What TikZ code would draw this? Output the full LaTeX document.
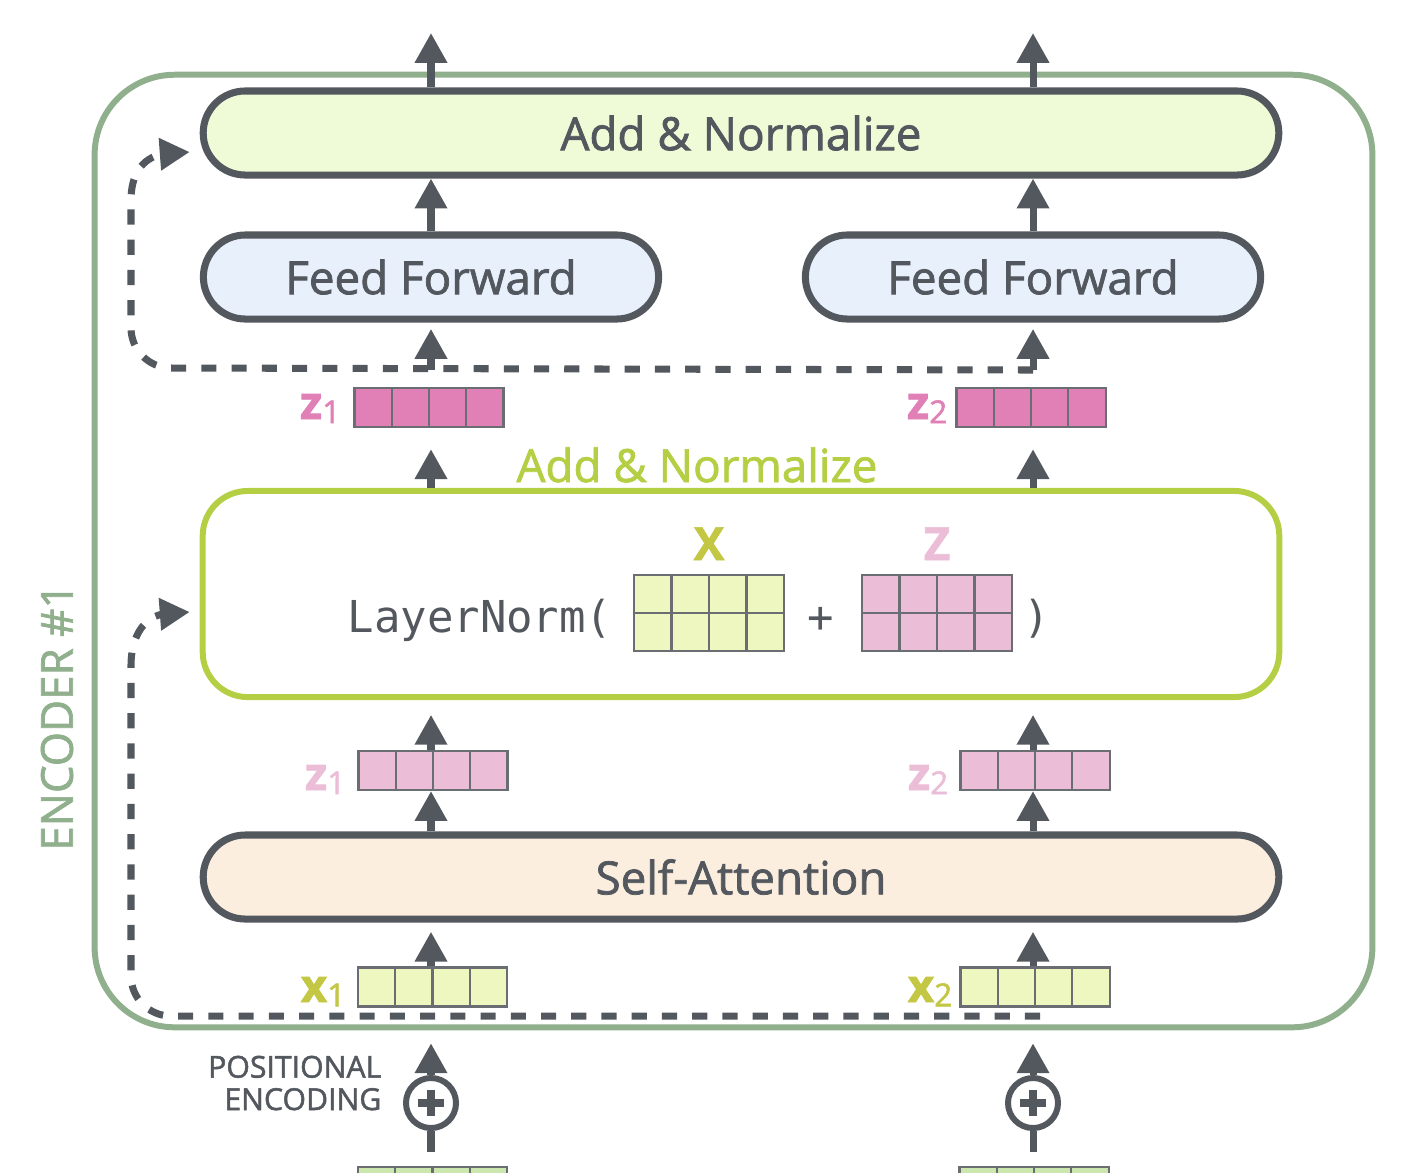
\documentclass[tikz,border=0pt]{standalone}
\usepackage{fontspec}
\setmainfont{Open Sans}[RawFeature={embolden=1.6}]
\newfontfamily\monofont{DejaVu Sans Mono}
\usetikzlibrary{arrows.meta,calc}

\definecolor{ink}{HTML}{53575E}
\definecolor{cellline}{HTML}{6A6D72}
\definecolor{encgreen}{HTML}{90AF8C}
\definecolor{lime}{HTML}{B4CF43}
\definecolor{addfill}{HTML}{EFFAD7}
\definecolor{fffill}{HTML}{E8F0FB}
\definecolor{safill}{HTML}{FBEEDF}
\definecolor{pinkdark}{HTML}{E080B6}
\definecolor{pinklight}{HTML}{EBBDD7}
\definecolor{yellowcell}{HTML}{EEF7BF}
\definecolor{olive}{HTML}{C3C743}
\definecolor{embgreen}{HTML}{CBE7AE}

% vector label: bold letter with a small lowered index
\newcommand{\veclab}[2]{{\bfseries #1}\raisebox{-1.2pt}{\fontsize{9}{9}\selectfont #2}}

\begin{document}
\begin{tikzpicture}[x=0.01cm, y=-0.01cm,
  layerbox/.style={draw=ink, line width=2pt, rounded corners=0.42cm,
    minimum height=0.84cm, inner sep=0pt, text=ink,
    font=\fontsize{13}{15}\selectfont},
  vecfour/.style={draw=cellline, line width=0.6pt, minimum width=1.49cm,
    minimum height=0.39cm, inner sep=0pt,
    path picture={\foreach \k in {1,2,3}{
      \draw[cellline, line width=0.6pt]
        ($(path picture bounding box.south west)!\k/4!(path picture bounding box.south east)$) --
        ($(path picture bounding box.north west)!\k/4!(path picture bounding box.north east)$);}}},
  matfour/.style={draw=cellline, line width=0.6pt, minimum width=1.5cm,
    minimum height=0.76cm, inner sep=0pt,
    path picture={\foreach \k in {1,2,3}{
      \draw[cellline, line width=0.6pt]
        ($(path picture bounding box.south west)!\k/4!(path picture bounding box.south east)$) --
        ($(path picture bounding box.north west)!\k/4!(path picture bounding box.north east)$);}
      \draw[cellline, line width=0.6pt] (path picture bounding box.west) -- (path picture bounding box.east);}},
  veclabel/.style={anchor=base east, inner sep=0pt, font=\fontsize{13}{15}\selectfont},
  addnode/.style={circle, draw=ink, line width=1.7pt, minimum size=0.5cm, inner sep=0pt,
    path picture={
      \draw[ink, line width=2.2pt] ($(path picture bounding box.center)+(-13,0)$) -- ($(path picture bounding box.center)+(13,0)$);
      \draw[ink, line width=2.2pt] ($(path picture bounding box.center)+(0,-13)$) -- ($(path picture bounding box.center)+(0,13)$);}},
  arr/.style={draw=ink, line width=2pt, -{Triangle[width=8.8pt,length=8.5pt]}},
  feed/.style={draw=ink, line width=2pt},
  skip/.style={draw=ink, line width=2pt, dash pattern=on 4.3pt off 4.3pt,
    -{Triangle[width=8.8pt,length=8.5pt]}},
  mono/.style={inner sep=0pt, text=ink, font=\monofont\fontsize{12.5}{15}\selectfont}
]
\useasboundingbox (0,0) rectangle (1428,1172);
\clip (0,0) rectangle (1428,1172);

% column guides for the two token streams
\coordinate (c1) at (431,0);
\coordinate (c2) at (1033,0);

% encoder frame and its label
\node[draw=encgreen, line width=1.7pt, rounded corners=0.8cm,
  minimum width=12.77cm, minimum height=9.52cm, inner sep=0pt] (encoder) at (733.5,551) {};
\node[rotate=90, text=encgreen, font=\fontsize{12.5}{15}\selectfont] (enclabel) at (57,717) {ENCODER \#1};

% layers
\node[layerbox, fill=addfill, minimum width=10.75cm] (addtop) at (741,133) {Add \& Normalize};
\node[layerbox, fill=fffill, minimum width=4.55cm] (ff1) at (431,277) {Feed Forward};
\node[layerbox, fill=fffill, minimum width=4.55cm] (ff2) at (1033,277) {Feed Forward};
\node[layerbox, fill=safill, minimum width=10.75cm] (sa) at (741,877) {Self-Attention};

% add & normalize block
\node[draw=lime, line width=1.7pt, rounded corners=0.45cm, minimum width=10.76cm,
  minimum height=2.06cm, inner sep=0pt] (anbox) at (741,594) {};
\node[anchor=base, inner sep=0pt, text=lime, font=\fontsize{13}{15}\selectfont] (anlabel) at (697,482) {Add \& Normalize};

\node[mono, anchor=base west] (lnopen) at (347,632) {LayerNorm(};
\node[matfour, fill=yellowcell] (matx) at (709,613) {};
\node[mono, anchor=base] (plus) at (821,632) {+};
\node[matfour, fill=pinklight] (matz) at (937,613) {};
\node[mono, anchor=base] (lnclose) at (1037,632) {)};
\node[anchor=base, inner sep=0pt, text=olive, font=\bfseries\fontsize{13}{15}\selectfont] (xlab) at (709,560) {X};
\node[anchor=base, inner sep=0pt, text=pinklight, font=\bfseries\fontsize{13}{15}\selectfont] (zlab) at (937,560) {Z};

% vectors
\node[vecfour, fill=pinkdark] (z1top) at (429,407.5) {};
\node[vecfour, fill=pinkdark] (z2top) at (1031,407.5) {};
\node[vecfour, fill=pinklight] (z1low) at (433,770.5) {};
\node[vecfour, fill=pinklight] (z2low) at (1035,770.5) {};
\node[vecfour, fill=yellowcell] (x1) at (432.5,987) {};
\node[vecfour, fill=yellowcell] (x2) at (1035,987) {};
\node[vecfour, fill=embgreen] (e1) at (432.5,1186.5) {};
\node[vecfour, fill=embgreen] (e2) at (1034,1186.5) {};

\node[veclabel, text=pinkdark] (z1toplab) at (341,419) {\veclab{z}{1}};
\node[veclabel, text=pinkdark] (z2toplab) at (948,419) {\veclab{z}{2}};
\node[veclabel, text=pinklight] (z1lowlab) at (346,790) {\veclab{z}{1}};
\node[veclabel, text=pinklight] (z2lowlab) at (949,790) {\veclab{z}{2}};
\node[veclabel, text=olive] (x1lab) at (346,1002) {\veclab{x}{1}};
\node[veclabel, text=olive] (x2lab) at (953,1002) {\veclab{x}{2}};

% positional encoding
\node[addnode, fill=white] (p1) at (431,1103) {};
\node[addnode, fill=white] (p2) at (1033,1103) {};
\node[anchor=east, align=right, inner sep=0pt, text=ink,
  font=\fontsize{8.6}{9.2}\selectfont] (pe) at (382,1083) {POSITIONAL\\ENCODING};

% outputs and residual branch points
\coordinate (out1) at (431,33);
\coordinate (out2) at (1033,33);
\coordinate (res1) at (431,370);
\coordinate (res2) at (1033,370);
\coordinate (res3) at (1040,1016);

% dashed residual connections
\draw[skip] (res2) -- (171,368) .. controls (149,368) and (131,350) .. (131,328)
  -- (131,200) .. controls (131,176) and (141,158) .. (163,154)
  -- ($(addtop.west)+(-10,19)$);
\draw[skip] (res3) -- (171,1016) .. controls (149,1016) and (131,998) .. (131,976)
  -- (131,665) .. controls (131,641) and (141,618) .. (163,614)
  -- ($(anbox.west)+(-10,18)$);

% main flow, both columns
\foreach \c/\ff/\zt/\zl/\x/\p/\e/\o/\r in {c1/ff1/z1top/z1low/x1/p1/e1/out1/res1, c2/ff2/z2top/z2low/x2/p2/e2/out2/res2}{
  \draw[arr] (addtop.north -| \c) -- (\o);
  \draw[arr] (\ff.north) -- (\ff.north |- addtop.south);
  \draw[arr, shorten >=1.8pt] (\r) -- (\ff.south);
  \draw[arr, shorten >=6pt] (anbox.north -| \c) -- (\zt.south -| \c);
  \draw[arr, shorten >=4.2pt] (\zl.north -| \c) -- (anbox.south -| \c);
  \draw[arr] (sa.north -| \c) -- (\zl.south -| \c);
  \draw[arr, shorten >=2.6pt] (\x.north -| \c) -- (sa.south -| \c);
  \draw[arr, shorten >=3.7pt] (\p.north) -- (encoder.south -| \c);
  \draw[feed, shorten <=4pt] (\e.north -| \c) -- (\p.south);
}
\end{tikzpicture}
\end{document}
